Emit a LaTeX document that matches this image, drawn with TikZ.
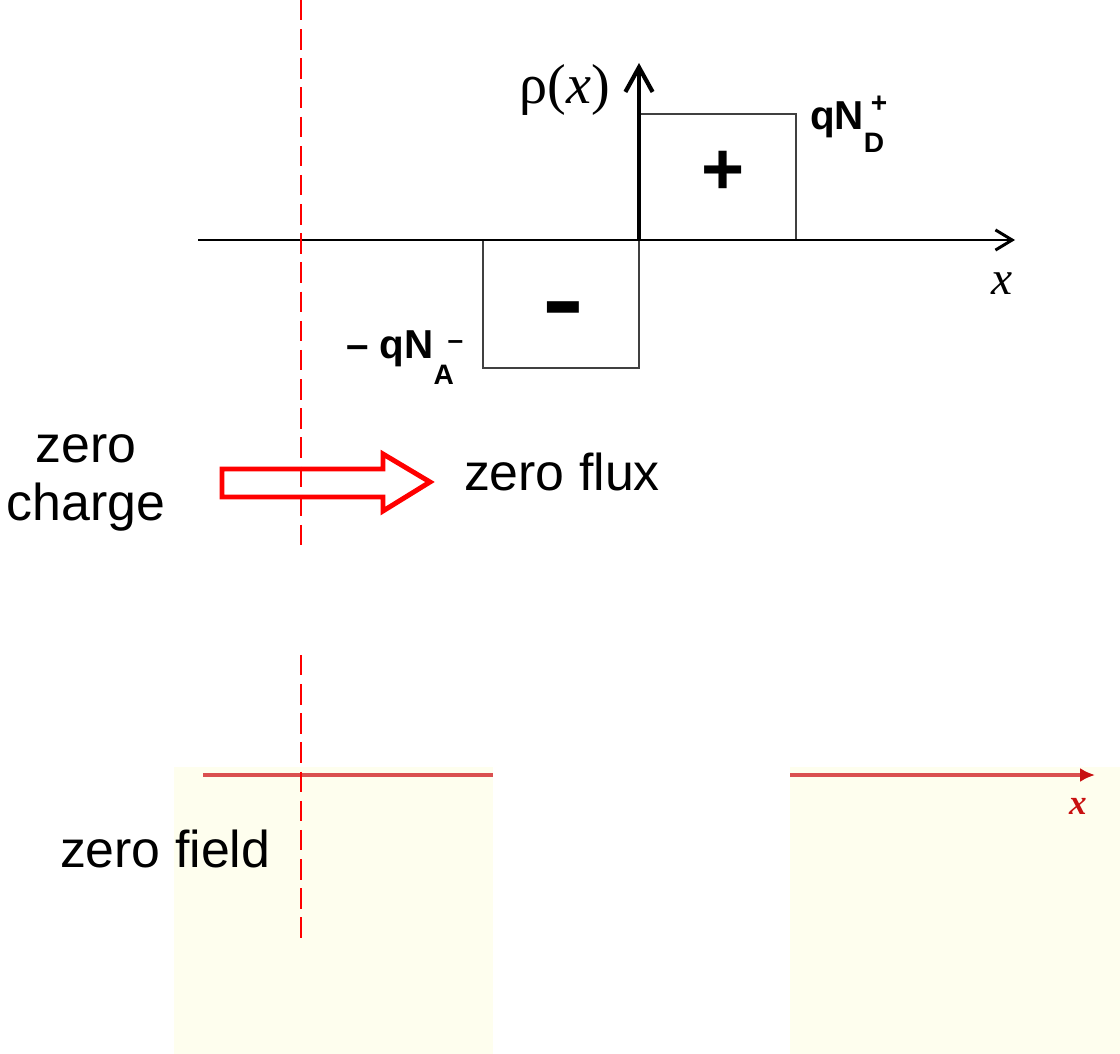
\documentclass[tikz,border=0pt]{standalone}
\usepackage{fontspec}
\setmainfont{Liberation Sans}
\newfontfamily\rmserif{Liberation Serif}
\usetikzlibrary{arrows.meta}
\definecolor{zerored}{HTML}{FF0000}
\definecolor{boxgray}{HTML}{404040}
\definecolor{fieldfill}{HTML}{FEFEEE}
\definecolor{fieldred}{HTML}{DA5050}
\definecolor{fieldtip}{HTML}{C81010}
\newcommand{\ionsz}{\fontsize{16}{16}\selectfont}

\begin{document}
\begin{tikzpicture}[
    x=0.02cm, y=-0.02cm,
    every node/.style={inner sep=0pt, outer sep=0pt},
    bigtext/.style={font=\fontsize{29.5}{33.5}\selectfont},
    iontext/.style={font=\fontsize{23}{23}\selectfont\bfseries, anchor=base west},
    axisline/.style={line width=1.7pt},
    chargebox/.style={draw=boxgray, line width=1.1pt},
    zerocut/.style={draw=zerored, line width=1.2pt, dash pattern=on 11.6pt off 5pt},
    fluxarrow/.style={draw=zerored, line width=2.8pt, fill=white, line join=miter},
    fieldbg/.style={fill=fieldfill},
    fieldaxis/.style={draw=fieldred, line width=2.3pt},
  ]
  \useasboundingbox (0,0) rectangle (1120,1054);

  % field region (bottom)
  \fill[fieldbg] (174,767) rectangle (493,1054);
  \fill[fieldbg] (790,767) rectangle (1120,1054);
  \coordinate (fl0) at (203,775);
  \coordinate (fl1) at (493,775);
  \coordinate (fr0) at (790,775);
  \coordinate (fr1) at (1095,775);
  \draw[fieldaxis] (fl0) -- (fl1);
  \draw[fieldaxis, -{Latex[length=8.5pt, width=8pt, color=fieldtip]}] (fr0) -- (fr1);
  \node[font=\rmserif\fontsize{20}{20}\selectfont\bfseries\itshape, text=fieldtip] (fx) at (1078,806) {x};

  % charge density
  \coordinate (o) at (639,240);
  \coordinate (xl) at (198,240);
  \coordinate (xr) at (1015,240);
  \coordinate (rtop) at (639,63);
  \draw[chargebox] (639,240) rectangle (796,114);
  \draw[chargebox] (483,240) rectangle (639,368);
  \draw[axisline, -{Straight Barb[length=9.5pt, width=11.5pt]}] (xl) -- (xr);
  \draw[line width=2.4pt, -{Straight Barb[length=14pt, width=15.5pt]}] (o) -- (rtop);

  \node[font=\fontsize{42}{42}\selectfont\bfseries] (plus) at (723,173) {+};
  \node[font=\fontsize{55}{55}\selectfont\bfseries] (minus) at (563,317) {\scalebox{1.3}[1]{-}};
  \node[font=\rmserif\fontsize{32}{32}\selectfont, anchor=base] (rho) at (565,104) {ρ(\textit{x})};
  \node[font=\rmserif\fontsize{27}{27}\selectfont\itshape] (xlab) at (1002,284) {x};
  \node[iontext] (nd) at (810,130)
    {qN\makebox[0pt][l]{\raisebox{-13pt}{\ionsz D}}\hspace{4pt}\raisebox{10pt}{\ionsz +}};
  \node[iontext] (na) at (346,358)
    {– qN\makebox[0pt][l]{\raisebox{-15pt}{\ionsz A}}\hspace{8pt}\raisebox{5pt}{\ionsz –}};

  % flux arrow
  \draw[fluxarrow] (222,469) -- (383,469) -- (383,454) -- (430,482)
    -- (383,511) -- (383,497) -- (222,497) -- cycle;

  % zero-charge cut
  \coordinate (c0) at (301,0);
  \coordinate (c1) at (301,545);
  \coordinate (c2) at (301,655);
  \coordinate (c3) at (301,940);
  \draw[zerocut] (c0) -- (c1);
  \draw[zerocut] (c2) -- (c3);

  \node[bigtext, align=center] (charge) at (86,483) {zero\\charge};
  \node[bigtext, anchor=base west] (flux) at (464,490) {zero flux};
  \node[bigtext, anchor=base west] (field) at (60,867) {zero field};
\end{tikzpicture}
\end{document}
